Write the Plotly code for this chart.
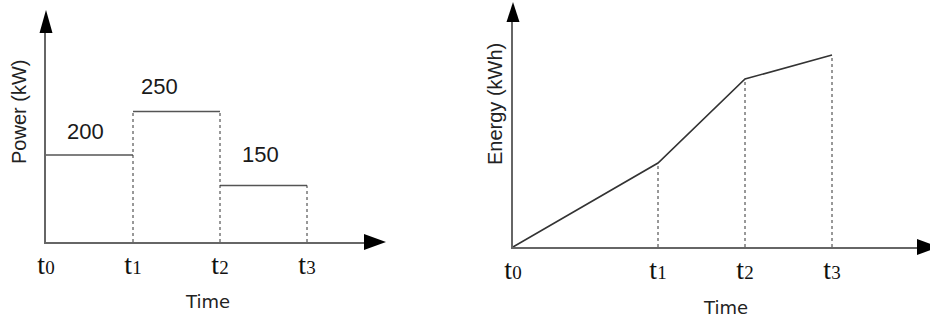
import plotly.graph_objects as go

# left panel: power steps between t0..t3
power_t = [0, 1, 2, 3]
power_kw = [200, 250, 150]          # value written over each step
power_drawn = [2.0, 3.0, 1.3]       # step height as drawn (schematic, not to scale)

# right panel: accumulated energy at t0..t3 (schematic units)
energy_t = [0, 5, 8, 11]
energy_kwh = [0, 7, 14, 16]

tick_text = ["t<span style='font-size:19px'>%d</span>" % i for i in range(4)]

W, H = 930, 322
AXIS_COLOR = "#666666"
LINE_COLOR = "#555555"
DOT_COLOR = "#333333"


def fx(px):
    return px / W


def fy(px):
    return 1 - px / H


fig = go.Figure()

# horizontal parts of the power steps
sx, sy = [], []
for i, h in enumerate(power_drawn):
    sx += [power_t[i], power_t[i + 1], None]
    sy += [h, h, None]
fig.add_trace(go.Scatter(x=sx, y=sy, mode="lines", xaxis="x", yaxis="y",
                         line=dict(color=LINE_COLOR, width=1.6), hoverinfo="skip"))

# dotted verticals at t1..t3
dx, dy = [], []
for i in range(1, len(power_t)):
    nxt = power_drawn[i] if i < len(power_drawn) else 0
    dx += [power_t[i], power_t[i], None]
    dy += [0, max(power_drawn[i - 1], nxt), None]
fig.add_trace(go.Scatter(x=dx, y=dy, mode="lines", xaxis="x", yaxis="y",
                         line=dict(color=DOT_COLOR, width=1, dash="dot"), hoverinfo="skip"))

# energy curve
fig.add_trace(go.Scatter(x=energy_t, y=energy_kwh, mode="lines", xaxis="x2", yaxis="y2",
                         line=dict(color="#333333", width=1.6), hoverinfo="skip"))
ex, ey = [], []
for t, e in zip(energy_t[1:], energy_kwh[1:]):
    ex += [t, t, None]
    ey += [0, e, None]
fig.add_trace(go.Scatter(x=ex, y=ey, mode="lines", xaxis="x2", yaxis="y2",
                         line=dict(color=DOT_COLOR, width=1, dash="dot"), hoverinfo="skip"))

axis_common = dict(showline=True, linecolor=AXIS_COLOR, linewidth=2, showgrid=False,
                   zeroline=False, ticks="", fixedrange=True, automargin=False)
tick_font = dict(family="Liberation Serif", size=28, color="#111111")

fig.update_layout(
    width=W, height=H,
    margin=dict(l=0, r=0, t=0, b=0, pad=0, autoexpand=False),
    paper_bgcolor="white", plot_bgcolor="white", showlegend=False,
    xaxis=dict(domain=[fx(46), fx(364)], range=[0, 318 / 87], anchor="y",
               tickvals=power_t, ticktext=tick_text, tickfont=tick_font,
               ticklabelstandoff=-4, **axis_common),
    yaxis=dict(domain=[fy(242), fy(33)], range=[0, 209 / 43.5], anchor="x",
               showticklabels=False, **axis_common),
    xaxis2=dict(domain=[fx(513), fx(917)], range=[0, 404 / 29], anchor="y2",
                tickvals=energy_t, ticktext=tick_text, tickfont=tick_font,
                ticklabelstandoff=-4, **axis_common),
    yaxis2=dict(domain=[fy(247), fy(22)], range=[0, 225 / 12], anchor="x2",
                showticklabels=False, **axis_common),
)

# arrow heads at the axis ends
arrows = [
    ("x domain", "y domain", 0, 1, "M-6.5,0 L6.5,0 L0,23 Z"),
    ("x domain", "y domain", 1, 0, "M0,-8 L0,8 L22,0 Z"),
    ("x2 domain", "y2 domain", 0, 1, "M-6.5,0 L6.5,0 L0,20 Z"),
    ("x2 domain", "y2 domain", 1, 0, "M0,-8 L0,8 L22,0 Z"),
]
for xr, yr, xa, ya, path in arrows:
    fig.add_shape(type="path", xref=xr, yref=yr, xsizemode="pixel", ysizemode="pixel",
                  xanchor=xa, yanchor=ya, path=path, fillcolor="black", line=dict(width=0))

# step value labels
label_dx = [0.45, 0.30, 0.46]
label_dy = [24, 25, 31]
for i, kw in enumerate(power_kw):
    fig.add_annotation(x=power_t[i] + label_dx[i], y=power_drawn[i], xref="x", yref="y",
                       text=str(kw), showarrow=False, yshift=label_dy[i],
                       font=dict(family="Liberation Sans", size=22, color="#1a1a1a"))

ytitle_font = dict(family="Liberation Sans", size=20, color="#222222")
xtitle_font = dict(family="DejaVu Sans", size=18, color="#222222")
titles = [
    ("Power (kW)", 19, 112, -90, ytitle_font),
    ("Energy (kWh)", 495, 104, -90, ytitle_font),
    ("Time", 207, 301, 0, xtitle_font),
    ("Time", 725, 307, 0, xtitle_font),
]
for text, px_, py_, ang, fnt in titles:
    fig.add_annotation(x=fx(px_), y=fy(py_), xref="paper", yref="paper", text=text,
                       showarrow=False, textangle=ang, xanchor="center", yanchor="middle",
                       font=fnt)

# the page's default body margin would shift the figure by 8px
fig.write_html("out.html", config={"displayModeBar": False},
               post_script="document.body.style.margin='0';")
